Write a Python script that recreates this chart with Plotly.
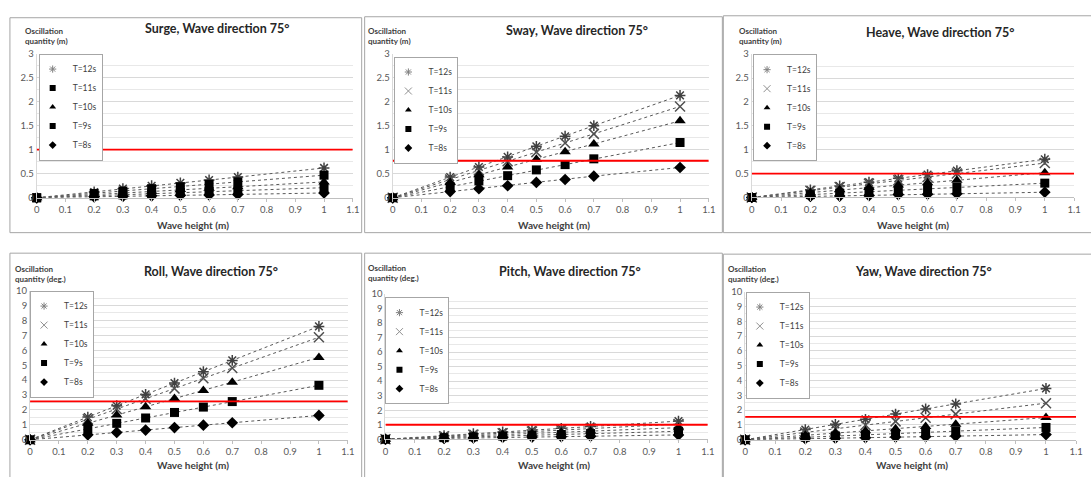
import plotly.graph_objects as go

W, H = 1091, 477

wave_height = [0, 0.2, 0.3, 0.4, 0.5, 0.6, 0.7, 1.0]
periods = ["T=12s", "T=11s", "T=10s", "T=9s", "T=8s"]

surge = {
    "T=12s": [0, 0.12, 0.19, 0.25, 0.31, 0.37, 0.43, 0.62],
    "T=11s": [0, 0.09, 0.14, 0.19, 0.23, 0.28, 0.33, 0.47],
    "T=10s": [0, 0.07, 0.10, 0.13, 0.17, 0.20, 0.23, 0.33],
    "T=9s":  [0, 0.04, 0.06, 0.08, 0.11, 0.13, 0.15, 0.21],
    "T=8s":  [0, 0.02, 0.03, 0.04, 0.05, 0.06, 0.07, 0.10],
}
sway = {
    "T=12s": [0, 0.43, 0.64, 0.85, 1.07, 1.28, 1.50, 2.13],
    "T=11s": [0, 0.38, 0.57, 0.76, 0.95, 1.14, 1.33, 1.90],
    "T=10s": [0, 0.32, 0.48, 0.64, 0.80, 0.96, 1.12, 1.60],
    "T=9s":  [0, 0.23, 0.35, 0.46, 0.58, 0.69, 0.81, 1.15],
    "T=8s":  [0, 0.13, 0.19, 0.25, 0.32, 0.38, 0.45, 0.63],
}
heave = {
    "T=12s": [0, 0.16, 0.24, 0.32, 0.40, 0.48, 0.56, 0.80],
    "T=11s": [0, 0.14, 0.22, 0.29, 0.36, 0.43, 0.50, 0.72],
    "T=10s": [0, 0.10, 0.16, 0.21, 0.26, 0.31, 0.36, 0.52],
    "T=9s":  [0, 0.06, 0.09, 0.12, 0.15, 0.18, 0.21, 0.30],
    "T=8s":  [0, 0.02, 0.03, 0.04, 0.06, 0.07, 0.08, 0.11],
}
roll = {
    "T=12s": [0, 1.52, 2.28, 3.04, 3.80, 4.56, 5.32, 7.60],
    "T=11s": [0, 1.37, 2.06, 2.75, 3.43, 4.12, 4.81, 6.87],
    "T=10s": [0, 1.10, 1.66, 2.21, 2.76, 3.31, 3.86, 5.52],
    "T=9s":  [0, 0.73, 1.10, 1.46, 1.83, 2.19, 2.56, 3.65],
    "T=8s":  [0, 0.33, 0.49, 0.65, 0.82, 0.98, 1.14, 1.63],
}
pitch = {
    "T=12s": [0, 0.25, 0.38, 0.50, 0.63, 0.75, 0.88, 1.25],
    "T=11s": [0, 0.21, 0.32, 0.42, 0.53, 0.63, 0.74, 1.05],
    "T=10s": [0, 0.16, 0.24, 0.32, 0.40, 0.48, 0.56, 0.80],
    "T=9s":  [0, 0.11, 0.17, 0.22, 0.28, 0.33, 0.39, 0.55],
    "T=8s":  [0, 0.06, 0.09, 0.12, 0.15, 0.18, 0.21, 0.30],
}
yaw = {
    "T=12s": [0, 0.69, 1.04, 1.38, 1.73, 2.08, 2.42, 3.46],
    "T=11s": [0, 0.49, 0.74, 0.99, 1.24, 1.48, 1.73, 2.47],
    "T=10s": [0, 0.30, 0.45, 0.60, 0.75, 0.90, 1.05, 1.50],
    "T=9s":  [0, 0.17, 0.25, 0.33, 0.42, 0.50, 0.58, 0.83],
    "T=8s":  [0, 0.07, 0.11, 0.14, 0.18, 0.21, 0.25, 0.35],
}

titles = ["Surge, Wave direction 75°", "Sway, Wave direction 75°", "Heave, Wave direction 75°",
          "Roll, Wave direction 75°", "Pitch, Wave direction 75°", "Yaw, Wave direction 75°"]
y_labels = ["Oscillation<br>quantity (m)"] * 3 + ["Oscillation<br>quantity (deg.)"] * 3
x_label = "Wave height (m)"
limits = [1.0, 0.77, 0.5, 2.57, 1.0, 1.55]
datasets = [surge, sway, heave, roll, pitch, yaw]
y_max = [3, 3, 3, 10, 10, 10]
y_dtick = [0.5, 0.5, 0.5, 1, 1, 1]
y_minor = [0.25, 0.25, 0.25, 0.5, 0.5, 0.5]

# ---- layout geometry (pixels) ----
plot_px = [  # x0, x1, ytop, ybottom
    (34, 353, 48.7, 196.3),
    (393.3, 712.3, 48.7, 196.3),
    (755.7, 1081, 49.3, 196),
    (27.3, 348, 291.3, 444),
    (386, 711.3, 294.7, 443.5),
    (749, 1083, 292.3, 444),
]
box_px = [
    (7, 362, 12, 232), (365, 726, 11, 232), (727, 1100, 10, 232),
    (7, 362, 253, 490), (365, 726, 253, 490), (727, 1100, 254, 490),
]
title_px = [(216.7, 23.3), (579.8, 25), (945.3, 26.7), (210, 271.3), (572.3, 271.3), (929.3, 271.3)]
ylab_px = [(20, 30.5), (366.7, 31), (740.3, 31.2), (10, 274), (366.7, 273.5), (729.7, 274.3)]
xlab_px = [(191.7, 224.3), (555.7, 224.3), (918.7, 224), (191.7, 469.5), (555.7, 469.5), (917, 470)]
legend_px = [(36, 48.7), (395, 51.7), (757, 49.3), (27.3, 291.3), (386, 298), (749.7, 292.3)]

def px(x):
    return x / W

def py(y):
    return 1 - y / H

FONT = "Lato, Open Sans, sans-serif"
styles = {
    "T=12s": dict(symbol="asterisk-open", size=9, color="#404040", line=dict(width=1.5, color="#404040")),
    "T=11s": dict(symbol="x-thin-open", size=10, color="#505050", line=dict(width=1.5, color="#505050")),
    "T=10s": dict(symbol="triangle-up", size=10, color="black"),
    "T=9s": dict(symbol="square", size=9, color="black"),
    "T=8s": dict(symbol="diamond", size=9, color="black"),
}
legend_styles = {
    "T=12s": dict(symbol="asterisk-open", size=6, color="#808080", line=dict(width=1, color="#808080")),
    "T=11s": dict(symbol="x-thin-open", size=7, color="#909090", line=dict(width=1, color="#909090")),
    "T=10s": dict(symbol="triangle-up", size=6, color="black"),
    "T=9s": dict(symbol="square", size=6, color="black"),
    "T=8s": dict(symbol="diamond", size=6, color="black"),
}
draw_order = ["T=12s", "T=11s", "T=10s", "T=8s", "T=9s"]

fig = go.Figure()
layout = dict(width=W, height=H, margin=dict(l=0, r=0, t=0, b=0),
              paper_bgcolor="white", plot_bgcolor="white", showlegend=True)
shapes, annotations = [], []

for i, data in enumerate(datasets):
    k = i + 1
    xa = "xaxis" if k == 1 else f"xaxis{k}"
    ya = "yaxis" if k == 1 else f"yaxis{k}"
    xr = "x" if k == 1 else f"x{k}"
    yr = "y" if k == 1 else f"y{k}"
    lg = "legend" if k == 1 else f"legend{k}"
    x0, x1, yt, yb = plot_px[i]
    layout[xa] = dict(domain=[px(x0), px(x1)], range=[0, 1.1], dtick=0.1, tick0=0,
                      showgrid=False, zeroline=False, showline=True, linecolor="#bfbfbf",
                      ticks="outside", ticklen=3, tickcolor="#bfbfbf", anchor=yr,
                      tickfont=dict(family=FONT, size=9.5, color="#595959"), fixedrange=True)
    layout[ya] = dict(domain=[py(yb), py(yt)], range=[0, y_max[i]], dtick=y_dtick[i], tick0=0,
                      showgrid=True, gridcolor="#d9d9d9", gridwidth=1, zeroline=False,
                      showline=True, linecolor="#d9d9d9", ticks="", anchor=xr,
                      minor=dict(dtick=y_minor[i], showgrid=True, gridcolor="#e8e8e8", gridwidth=1),
                      tickfont=dict(family=FONT, size=9.5, color="#595959"), fixedrange=True)
    lx, ly = legend_px[i]
    layout[lg] = dict(x=px(lx), y=py(ly), xanchor="left", yanchor="top",
                      bgcolor="white", bordercolor="#a6a6a6", borderwidth=1,
                      font=dict(family=FONT, size=8.5, color="#404040"),
                      tracegroupgap=0, itemsizing="trace", itemwidth=30, indentation=-7)
    for name in draw_order:
        st = dict(styles[name])
        lst = dict(legend_styles[name])
        if i == 0 and name == "T=11s":
            st = dict(symbol="square", size=9, color="black")
            lst = dict(symbol="square", size=6, color="black")
        # connecting dotted line
        fig.add_trace(go.Scatter(
            x=wave_height, y=data[name], name=name, mode="lines",
            line=dict(color="#595959", width=1, dash="dot"),
            xaxis=xr, yaxis=yr, showlegend=False, hoverinfo="skip"))
        # markers
        fig.add_trace(go.Scatter(
            x=wave_height, y=data[name], name=name, mode="markers",
            marker=st, xaxis=xr, yaxis=yr, cliponaxis=False, showlegend=False))
        # legend entry (marker only)
        fig.add_trace(go.Scatter(
            x=[None], y=[None], name=name, mode="markers", marker=lst,
            xaxis=xr, yaxis=yr, legend=lg, legendrank=periods.index(name) + 1,
            showlegend=True))
    # red limit line
    shapes.append(dict(type="line", xref=xr, yref=yr, x0=0, x1=1.1, y0=limits[i], y1=limits[i],
                       line=dict(color="#ff0000", width=1.8)))
    # panel border
    bx0, bx1, by0, by1 = box_px[i]
    shapes.append(dict(type="rect", xref="paper", yref="paper", x0=px(bx0), x1=px(bx1),
                       y0=py(by1), y1=py(by0), line=dict(color="#a6a6a6", width=1), layer="below"))
    tx, ty = title_px[i]
    annotations.append(dict(text=f"<b>{titles[i]}</b>", x=px(tx), y=py(ty), xref="paper", yref="paper",
                            showarrow=False, xanchor="center", yanchor="middle",
                            font=dict(family=FONT, size=12.5, color="#262626")))
    yx, yy = ylab_px[i]
    annotations.append(dict(text=f"<b>{y_labels[i]}</b>", x=px(yx), y=py(yy), xref="paper", yref="paper",
                            showarrow=False, xanchor="left", yanchor="middle", align="left",
                            font=dict(family=FONT, size=8, color="#404040")))
    ax, ay = xlab_px[i]
    annotations.append(dict(text=f"<b>{x_label}</b>", x=px(ax), y=py(ay), xref="paper", yref="paper",
                            showarrow=False, xanchor="center", yanchor="middle",
                            font=dict(family=FONT, size=10, color="#404040")))

layout["shapes"] = shapes
layout["annotations"] = annotations
fig.update_layout(**layout)
fig.write_html("out.html", config={"displayModeBar": False},
               post_script="document.body.style.margin='0';")
